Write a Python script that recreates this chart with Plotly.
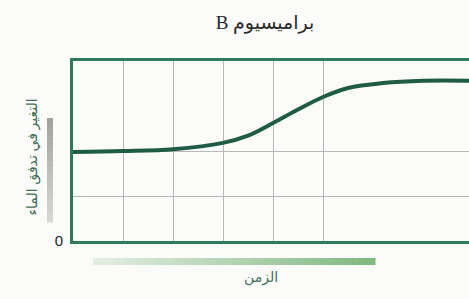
import plotly.graph_objects as go

# Data
time_vals = [0, 1, 2, 3, 3.5, 4, 4.5, 5, 5.5, 6.2, 7, 7.95]
flow_vals = [1.98, 2.0, 2.04, 2.18, 2.34, 2.62, 2.92, 3.2, 3.4, 3.51, 3.56, 3.56]
x_grid = [1, 2, 3, 4, 5]
y_ticks = [0, 1, 2]
y_ticktext = ["0", "", ""]

title_text = "B براميسيوم"
y_title = "التغير في تدفق الماء"
x_title = "الزمن"

fig = go.Figure()
fig.add_trace(go.Scatter(
    x=time_vals, y=flow_vals, mode="lines",
    line=dict(color="#1f5c45", width=4, shape="spline", smoothing=1.0),
    hoverinfo="skip", showlegend=False,
))

shapes = []
# green gradient bar under x axis
n = 60
x0, x1 = 93, 375
for i in range(n):
    t = i / (n - 1)
    r = int(228 + (128 - 228) * t)
    g = int(238 + (184 - 238) * t)
    b = int(228 + (128 - 228) * t)
    shapes.append(dict(type="rect", xref="paper", yref="paper",
                       x0=(x0 + (x1 - x0) * i / n - 73) / 396,
                       x1=(x0 + (x1 - x0) * (i + 1) / n - 73 + 0.5) / 396,
                       y0=-(265 - 241) / 180, y1=-(258 - 241) / 180,
                       fillcolor=f"rgb({r},{g},{b})", line=dict(width=0), layer="above"))
# gray gradient bar beside y axis
m = 40
ya, yb = 118, 222
for i in range(m):
    t = i / (m - 1)
    c = int(160 + (215 - 160) * t)
    shapes.append(dict(type="rect", xref="paper", yref="paper",
                       x0=(47 - 73) / 396, x1=(53 - 73) / 396,
                       y0=(241 - (ya + (yb - ya) * (i + 1) / m) - 0.5) / 180,
                       y1=(241 - (ya + (yb - ya) * i / m)) / 180,
                       fillcolor=f"rgb({c},{c+2},{c-4})", line=dict(width=0), layer="above"))

fig.update_layout(
    width=469, height=299,
    margin=dict(l=73, r=0, t=61, b=58),
    paper_bgcolor="#fbfbfa", plot_bgcolor="#fbfbfa",
    title=dict(text=title_text, x=0.565, xanchor="center", y=0.925, yanchor="middle",
               font=dict(family="Liberation Serif, DejaVu Sans", size=19, color="#2a2a2a")),
    xaxis=dict(range=[0, 7.92], tickvals=x_grid, showticklabels=False, ticks="",
               showgrid=True, gridcolor="#b8b8b8", gridwidth=1, zeroline=False,
               showline=True, linecolor="#2e7a5a", linewidth=3, mirror=True,
               fixedrange=True),
    yaxis=dict(range=[0, 4], tickvals=y_ticks, ticktext=y_ticktext, ticks="",
               tickfont=dict(family="Liberation Sans", size=15, color="#222"),
               showgrid=True, gridcolor="#b8b8b8", gridwidth=1, zeroline=False,
               showline=True, linecolor="#2e7a5a", linewidth=3, mirror=False,
               ticklabelstandoff=4, fixedrange=True),
    shapes=shapes,
    annotations=[
        dict(text=y_title, xref="paper", yref="paper", x=(19 - 73) / 396, y=(241 - 157) / 180,
             showarrow=False, textangle=-90, font=dict(family="Noto Sans, DejaVu Sans", size=14, color="#3f7057")),
        dict(text=x_title, xref="paper", yref="paper", x=(261 - 73) / 396, y=-(288 - 241) / 180,
             showarrow=False, font=dict(family="Noto Sans, DejaVu Sans", size=14, color="#3f7057")),
    ],
)

fig.write_html("out.html", config={"displayModeBar": False},
               post_script="document.body.style.margin='0';document.body.style.overflow='hidden';")
